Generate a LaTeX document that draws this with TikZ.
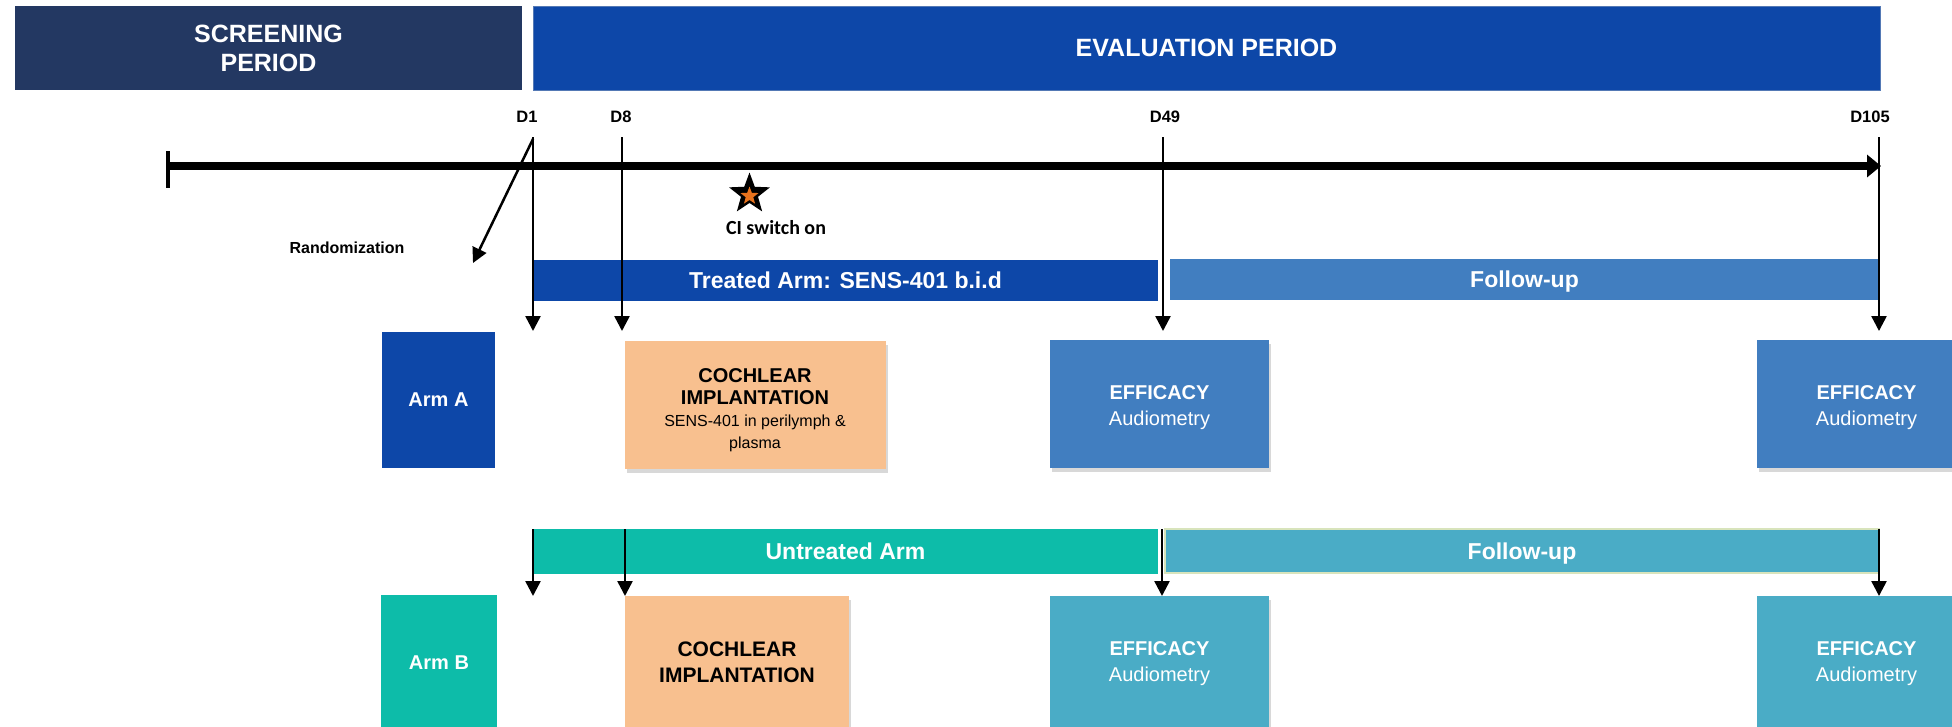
\documentclass[tikz,border=0pt]{standalone}
\usepackage{fontspec}
\setmainfont{Liberation Sans}
\newfontfamily\calfont{Carlito}
\usetikzlibrary{arrows.meta,shapes.geometric,shadows}
\definecolor{cnavy}{HTML}{233862}
\definecolor{cblue}{HTML}{0D47A8}
\definecolor{cblueedge}{HTML}{5479B5}
\definecolor{cmid}{HTML}{417EC0}
\definecolor{cteal}{HTML}{0DBCA9}
\definecolor{clteal}{HTML}{4AACC6}
\definecolor{cpeach}{HTML}{F8C08F}
\definecolor{cstar}{HTML}{E8731E}
\definecolor{cfuborder}{HTML}{D8E4BC}
\newcommand{\fsz}[2]{\fontsize{#1}{#2}\selectfont}
\newcommand{\efftext}{\bfseries EFFICACY\\\mdseries Audiometry}
\tikzset{
  blk/.style={inner sep=0pt, align=center, text=white, draw=none},
  barbox/.style={blk, text depth=0pt, font=\bfseries\fsz{23}{27}},
  shad/.style={drop shadow={shadow xshift=2pt, shadow yshift=-4pt, fill=black!30, opacity=.5}},
  vline/.style={line width=2.5pt, -{Triangle[width=15pt,length=15pt]}},
  daylbl/.style={font=\bfseries\fsz{16.5}{19}, inner sep=0pt},
  effbox/.style={blk, shad, minimum width=219pt},
  efftxt/.style={inner sep=0pt, align=center, text=white, font=\fsz{20}{26}},
}
\begin{document}
\begin{tikzpicture}[x=1pt,y=-1pt]
\useasboundingbox (0,0) rectangle (1952,726);
% period headers
\node[blk, fill=cnavy, minimum width=507pt, minimum height=84pt, font=\bfseries\fsz{25}{29}] (scr) at (268.5,48) {SCREENING\\PERIOD};
\node[blk, fill=cblue, draw=cblueedge, line width=1pt, minimum width=1347pt, minimum height=84pt, font=\bfseries\fsz{25}{29}] (evl) at (1206.5,48) {EVALUATION PERIOD};
% day labels
\node[daylbl] (d1) at (527,117) {D1};
\node[daylbl] (d8) at (621,117) {D8};
\node[daylbl] (d49) at (1165,117) {D49};
\node[daylbl] (d105) at (1870,117) {D105};
% timeline
\coordinate (tl0) at (168,166);
\coordinate (tl1) at (1881,166);
\coordinate (tk0) at (168,151);
\coordinate (tk1) at (168,188);
\draw[line width=8pt, -{Triangle[width=22pt,length=14pt]}] (tl0) -- (tl1);
\draw[line width=4pt] (tk0) -- (tk1);
% bars
\node[barbox, fill=cblue, minimum width=625pt, minimum height=41pt] (treated) at (845.5,280.5) {Treated Arm: SENS-401 b.i.d};
\node[barbox, fill=cmid, minimum width=709pt, minimum height=41pt] (fu1) at (1524.5,279.5) {Follow-up};
\node[barbox, fill=cteal, minimum width=625pt, minimum height=45pt] (untreated) at (845.5,551.5) {Untreated Arm};
\node[barbox, fill=clteal, draw=cfuborder, line width=2pt, minimum width=714pt, minimum height=44pt] (fu2) at (1522,551) {Follow-up};
% arm A row
\node[blk, fill=cblue, minimum width=113pt, minimum height=136pt, font=\bfseries\fsz{20}{24}] (armA) at (438.5,400) {Arm A};
\node[blk, fill=cpeach, shad, minimum width=261pt, minimum height=128pt] (coch1) at (755,405) {};
\node[inner sep=0pt, align=center, font=\fsz{20}{22}] (coch1t) at (755,410) {\bfseries COCHLEAR\\\bfseries IMPLANTATION\\\mdseries\fsz{16}{18}SENS-401 in perilymph \&\\\mdseries\fsz{16}{18}plasma};
\node[effbox, fill=cmid, minimum height=128pt] (eff1) at (1159.5,404) {};
\node[efftxt] (eff1t) at (1159.5,408) {\efftext};
\node[effbox, fill=cmid, minimum height=128pt] (eff2) at (1866.5,404) {};
\node[efftxt] (eff2t) at (1866.5,408) {\efftext};
% arm B row
\node[blk, fill=cteal, minimum width=116pt, minimum height=136pt, font=\bfseries\fsz{20}{24}] (armB) at (439,663) {Arm B};
\node[blk, fill=cpeach, shad, text=black, minimum width=224pt, minimum height=132pt, font=\bfseries\fsz{21}{26}] (coch2) at (737,662) {COCHLEAR\\IMPLANTATION};
\node[effbox, fill=clteal, minimum height=132pt] (eff3) at (1159.5,662) {};
\node[efftxt] (eff3t) at (1159.5,664) {\efftext};
\node[effbox, fill=clteal, minimum height=132pt] (eff4) at (1866.5,662) {};
\node[efftxt] (eff4t) at (1866.5,664) {\efftext};
% star and labels
\node[star, star points=5, star point ratio=2.4, fill=black, minimum size=43pt, inner sep=0pt] (star) at (749.5,194) {};
\node[star, star points=5, star point ratio=2.4, fill=cstar, minimum size=19pt, inner sep=0pt] (starin) at (749.5,196) {};
\node[font=\calfont\bfseries\fsz{20}{24}, inner sep=0pt] (ci) at (776,228) {CI switch on};
\node[font=\bfseries\fsz{16}{19}, inner sep=0pt] (rand) at (347,248) {Randomization};
% arrow coordinates
\coordinate (a1s) at (533,137); \coordinate (a1e) at (533,331);
\coordinate (a8s) at (622,137); \coordinate (a8e) at (622,331);
\coordinate (a49s) at (1163,137); \coordinate (a49e) at (1163,331);
\coordinate (a105s) at (1879,137); \coordinate (a105e) at (1879,331);
\coordinate (rs) at (533,139); \coordinate (re) at (473,263);
\coordinate (b1s) at (533,529); \coordinate (b1e) at (533,596);
\coordinate (b8s) at (625,529); \coordinate (b8e) at (625,596);
\coordinate (b49s) at (1162,529); \coordinate (b49e) at (1162,596);
\coordinate (b105s) at (1879,529); \coordinate (b105e) at (1879,596);
\draw[vline] (a1s) -- (a1e);
\draw[vline] (a8s) -- (a8e);
\draw[vline] (a49s) -- (a49e);
\draw[vline] (a105s) -- (a105e);
\draw[vline] (rs) -- (re);
\draw[vline] (b1s) -- (b1e);
\draw[vline] (b8s) -- (b8e);
\draw[vline] (b49s) -- (b49e);
\draw[vline] (b105s) -- (b105e);
\end{tikzpicture}
\end{document}
